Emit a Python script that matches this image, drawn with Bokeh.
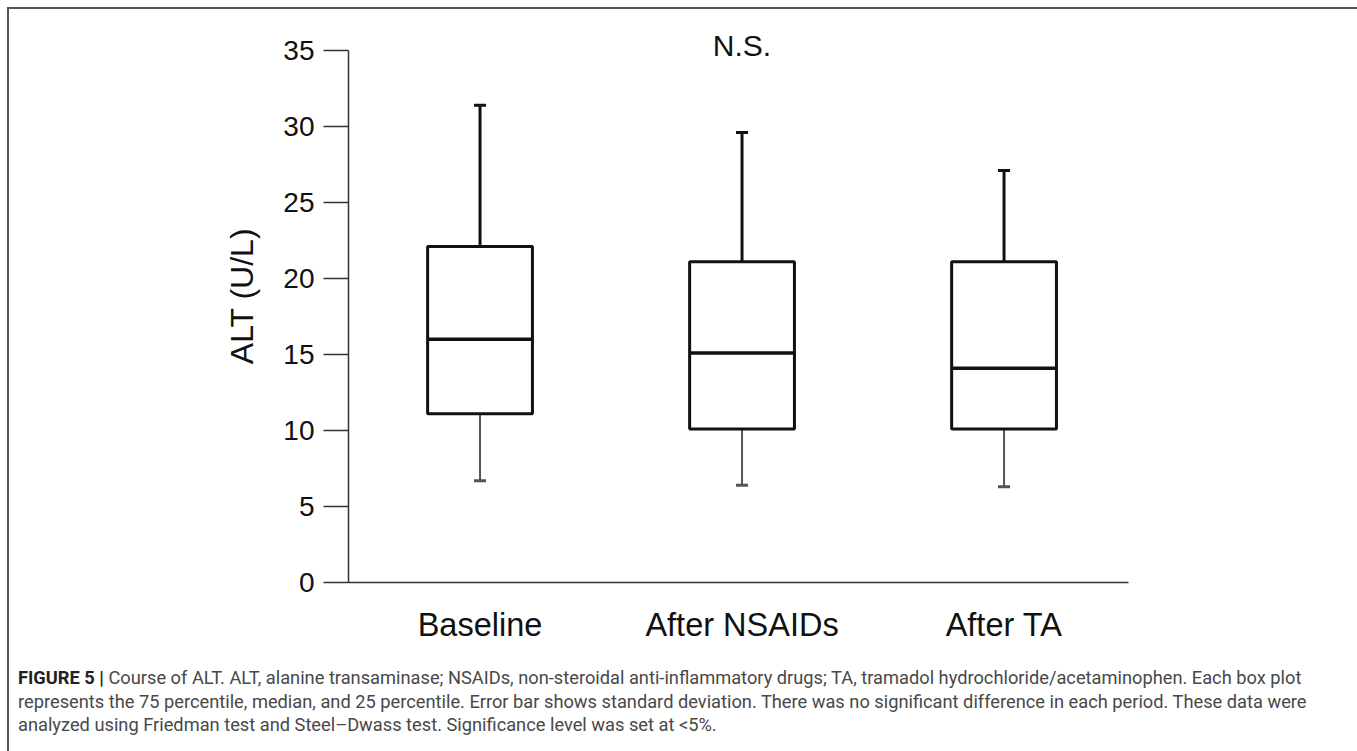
from bokeh.plotting import figure
from bokeh.layouts import column
from bokeh.models import Range1d, FixedTicker, Label, ColumnDataSource, Div
from bokeh.embed import file_html
from bokeh.resources import INLINE

categories = ["Baseline", "After NSAIDs", "After TA"]
positions = [1, 2, 3]
q1 = [11.1, 10.1, 10.1]
median = [16.0, 15.1, 14.1]
q3 = [22.1, 21.1, 21.1]
whisker_lo = [6.7, 6.4, 6.3]
whisker_hi = [31.4, 29.6, 27.1]
y_ticks = [0, 5, 10, 15, 20, 25, 30, 35]

caption_head = "FIGURE 5 |"
caption_lines = [
    "Course of ALT. ALT, alanine transaminase; NSAIDs, non-steroidal anti-inflammatory drugs; TA, tramadol hydrochloride/acetaminophen. Each box plot",
    "represents the 75 percentile, median, and 25 percentile. Error bar shows standard deviation. There was no significant difference in each period. These data were",
    "analyzed using Friedman test and Steel\u2013Dwass test. Significance level was set at &lt;5%.",
]

src = ColumnDataSource(dict(x=positions, q1=q1, med=median, q3=q3, lo=whisker_lo, hi=whisker_hi,
                            xl=[v - 0.023 for v in positions], xr=[v + 0.023 for v in positions],
                            bl=[v - 0.2 for v in positions], br=[v + 0.2 for v in positions]))

p = figure(width=1344, height=641, output_backend="svg", toolbar_location=None,
           x_range=Range1d(0.498, 3.475), y_range=Range1d(0, 37.7),
           min_border_left=339, min_border_right=225, min_border_top=0, min_border_bottom=68)
p.frame_width = 780
p.frame_height = 573
p.outline_line_color = None
p.grid.visible = False
p.background_fill_color = "white"
p.border_fill_color = "white"

# whiskers
p.segment("x", "q3", "x", "hi", source=src, line_color="#111111", line_width=3)
p.segment("xl", "hi", "xr", "hi", source=src, line_color="#111111", line_width=3)
p.segment("x", "lo", "x", "q1", source=src, line_color="#555555", line_width=2)
p.segment("xl", "lo", "xr", "lo", source=src, line_color="#555555", line_width=3)
# boxes
p.quad(left="bl", right="br", bottom="q1", top="q3", source=src,
       fill_color="white", line_color="#111111", line_width=3)
p.segment("bl", "med", "br", "med", source=src, line_color="#111111", line_width=3.5)

# axes
p.xaxis.ticker = FixedTicker(ticks=positions)
p.xaxis.major_label_overrides = {pos: c for pos, c in zip(positions, categories)}
p.xaxis.major_tick_line_color = None
p.xaxis.minor_tick_line_color = None
p.xaxis.axis_line_color = "#333333"
p.xaxis.axis_line_width = 1.5
p.xaxis.major_label_text_font = "Liberation Sans"
p.xaxis.major_label_text_font_size = "32.5px"
p.xaxis.major_label_text_color = "#111111"
p.xaxis.major_label_standoff = 18

p.yaxis.ticker = FixedTicker(ticks=y_ticks)
p.yaxis.bounds = (0, 35)
p.yaxis.minor_tick_line_color = None
p.yaxis.major_tick_out = 25
p.yaxis.major_tick_in = 0
p.yaxis.major_tick_line_color = "#333333"
p.yaxis.major_tick_line_width = 1.5
p.yaxis.axis_line_color = "#333333"
p.yaxis.axis_line_width = 1.5
p.yaxis.major_label_text_font = "Liberation Sans"
p.yaxis.major_label_text_font_size = "28px"
p.yaxis.major_label_text_color = "#111111"
p.yaxis.major_label_standoff = 9
p.yaxis.axis_label = "ALT (U/L)"
p.yaxis.axis_label_text_font = "Liberation Sans"
p.yaxis.axis_label_text_font_size = "32px"
p.yaxis.axis_label_text_font_style = "normal"
p.yaxis.axis_label_text_color = "#111111"
p.yaxis.axis_label_standoff = 20

# N.S.
p.add_layout(Label(x=2, y=35.33, text="N.S.", text_align="center", text_baseline="alphabetic",
                   text_font="Liberation Sans", text_font_size="30px", text_color="#111111"))

# caption
caption_html = (
    '<div style="font-family:Roboto; font-size:18.25px; line-height:23.5px; color:#484848; '
    'padding:11px 0 0 4px; white-space:nowrap;">'
    '<b style="color:#222222;">' + caption_head + '</b> ' + caption_lines[0] + '<br>'
    + caption_lines[1] + '<br>' + caption_lines[2] + '</div>'
)
cap = Div(text=caption_html, width=1344, height=101)

layout = column(p, cap, styles={"margin-left": "7px", "margin-top": "7px",
                                "border-left": "2px solid #555555",
                                "border-top": "2px solid #555555",
                                "border-right": "2px solid #555555"})

open("out.html", "w").write(file_html(layout, INLINE))
